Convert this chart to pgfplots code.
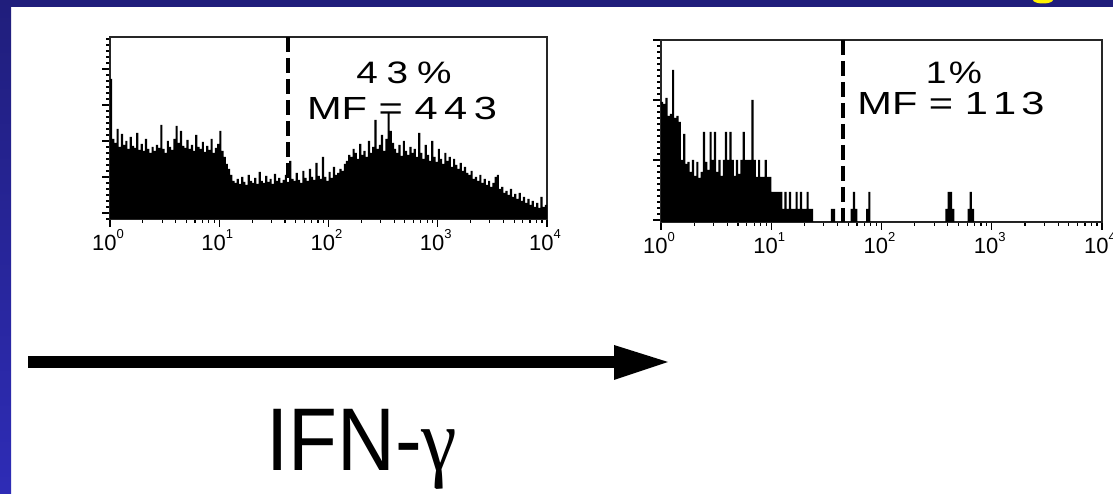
\documentclass[border=0pt]{standalone}
\usepackage{fontspec}
\setmainfont{Liberation Sans}
\newfontfamily\grk{Liberation Serif}
\usepackage{pgfplots}
\usepackage{pgfplotstable}
\pgfplotsset{compat=1.18}

\definecolor{navy}{HTML}{201E7C}
\definecolor{bandlo}{HTML}{2E2CB6}

% decade tick label: 10 with raised exponent
\newcommand{\dec}[1]{10\raisebox{12pt}{\fontsize{13}{13}\selectfont #1}}

% channel counts (bar heights), 200 channels over 4 decades
\pgfplotstableread[row sep=\\]{h\\
140\\80\\76\\90\\72\\85\\74\\78\\70\\82\\73\\71\\86\\69\\75\\68\\80\\70\\66\\72\\
68\\74\\71\\94\\70\\66\\78\\72\\69\\80\\93\\76\\88\\73\\71\\79\\70\\74\\68\\84\\
72\\70\\77\\67\\73\\69\\80\\66\\71\\75\\88\\68\\62\\55\\50\\44\\
38\\36\\40\\35\\42\\37\\34\\44\\38\\36\\41\\35\\47\\38\\36\\43\\37\\40\\35\\45\\
38\\41\\36\\39\\44\\37\\58\\40\\38\\46\\39\\36\\48\\41\\38\\50\\42\\39\\56\\43\\
40\\62\\42\\38\\47\\41\\52\\44\\46\\50\\48\\55\\
58\\64\\62\\70\\66\\60\\75\\64\\68\\62\\78\\66\\72\\99\\70\\74\\84\\68\\80\\106\\
88\\76\\70\\66\\74\\63\\78\\68\\64\\72\\66\\
70\\62\\86\\66\\60\\74\\64\\58\\78\\62\\57\\70\\60\\55\\66\\58\\62\\52\\60\\54\\50\\56\\48\\
52\\46\\44\\48\\40\\42\\38\\44\\36\\40\\34\\38\\32\\36\\42\\
44\\30\\32\\26\\28\\24\\30\\22\\25\\20\\26\\18\\22\\16\\20\\14\\18\\12\\16\\11\\22\\12\\14\\
14\\
}\histA

\pgfplotstableread[row sep=\\]{h\\
120\\118\\124\\106\\108\\152\\104\\106\\100\\62\\
88\\58\\60\\50\\62\\46\\60\\44\\50\\90\\
60\\52\\90\\62\\90\\50\\62\\46\\62\\90\\62\\90\\62\\
46\\62\\48\\62\\90\\62\\62\\62\\122\\62\\
45\\62\\45\\45\\62\\45\\45\\30\\
30\\30\\30\\30\\13\\30\\13\\30\\13\\13\\
30\\13\\30\\13\\13\\30\\13\\13\\0\\
0\\0\\0\\0\\0\\0\\0\\13\\13\\0\\
0\\0\\6\\0\\0\\0\\13\\30\\13\\0\\
0\\0\\0\\13\\30\\0\\0\\0\\0\\0\\
0\\0\\0\\0\\0\\0\\0\\0\\0\\0\\0\\0\\0\\0\\0\\0\\0\\0\\0\\0\\0\\0\\0\\0\\0\\0\\0\\0\\0\\
13\\30\\30\\13\\
0\\0\\0\\0\\0\\0\\
13\\30\\13\\
0\\0\\0\\0\\0\\0\\0\\0\\0\\0\\0\\0\\0\\0\\0\\0\\0\\0\\0\\0\\
0\\0\\0\\0\\0\\0\\0\\0\\0\\0\\0\\0\\0\\0\\0\\0\\0\\0\\0\\0\\
0\\0\\0\\0\\0\\0\\0\\0\\0\\0\\0\\0\\0\\0\\0\\0\\0\\0\\
0\\
}\histB

\pgfplotsset{facs/.style={
  scale only axis, anchor=south west, height=182pt,
  xmin=0, xmax=200, ymin=0, ymax=182,
  axis line style={line width=1.6pt, black!85},
  xtick={0,50,100,150,200},
  xticklabels={\dec{0},\dec{1},\dec{2},\dec{3},\dec{4}},
  minor xtick={15.05,23.86,30.10,34.95,38.91,42.25,45.15,47.71,
    65.05,73.86,80.10,84.95,88.91,92.25,95.15,97.71,
    115.05,123.86,130.10,134.95,138.91,142.25,145.15,147.71,
    165.05,173.86,180.10,184.95,188.91,192.25,195.15,197.71},
  xtick pos=bottom, ytick pos=left,
  tick align=outside,
  major tick length=8pt, minor tick length=4pt,
  tick style={black, line width=1.2pt},
  yticklabels={},
  xticklabel style={font=\fontsize{22}{22}\selectfont, inner sep=0pt, yshift=-2pt, xshift=-2pt},
}}

\begin{document}
\begin{tikzpicture}[x=1pt, y=1pt]
\path[use as bounding box, fill=white] (0,0) rectangle (1113,494);
\fill[navy] (0,487) rectangle (1113,494);
\shade[top color=navy, bottom color=bandlo] (0,0) rectangle (11,494);
\begin{scope}
\clip (0,487) rectangle (1113,494);
\fill[yellow] (1043,494) ellipse[x radius=10, y radius=3.5];
\end{scope}

\begin{axis}[facs, at={(110pt,275pt)}, width=437pt, ytick={-30,6,42,78,114,150,186}, minor tick num=5]
\addplot[fill=black, draw=none, const plot mark left] table[x expr=\coordindex, y index=0] {\histA} \closedcycle;
\draw[black, line width=4pt, dash pattern=on 15pt off 6pt] (axis cs:81.5,182) -- (axis cs:81.5,0);
\end{axis}

\begin{axis}[facs, at={(661pt,272pt)}, width=441pt, ytick={2,62,122,182}, minor tick num=9]
\addplot[fill=black, draw=none, const plot mark left] table[x expr=\coordindex, y index=0] {\histB} \closedcycle;
\draw[black, line width=4pt, dash pattern=on 15pt off 6pt] (axis cs:82.5,182) -- (axis cs:82.5,0);
\end{axis}

\node[font=\fontsize{31}{31}\selectfont, xscale=1.25] at (404,421) {4\kern7pt3\kern7pt\%};
\node[font=\fontsize{32}{32}\selectfont, xscale=1.3] at (402,386) {MF = 4\kern5pt4\kern5pt3};
\node[font=\fontsize{31}{31}\selectfont, xscale=1.2] at (954,421) {1\kern2pt\%};
\node[font=\fontsize{32}{32}\selectfont, xscale=1.3] at (951,391) {MF = 1\kern4pt1\kern4pt3};

\fill[black] (28,126) rectangle (617,138);
\fill[black] (614,149) -- (668,132) -- (614,114) -- cycle;

\node[anchor=base west, inner sep=0pt, xscale=0.9, font=\fontsize{89}{89}\selectfont] at (266,23) {IFN-{\grk γ}};
\end{tikzpicture}
\end{document}
